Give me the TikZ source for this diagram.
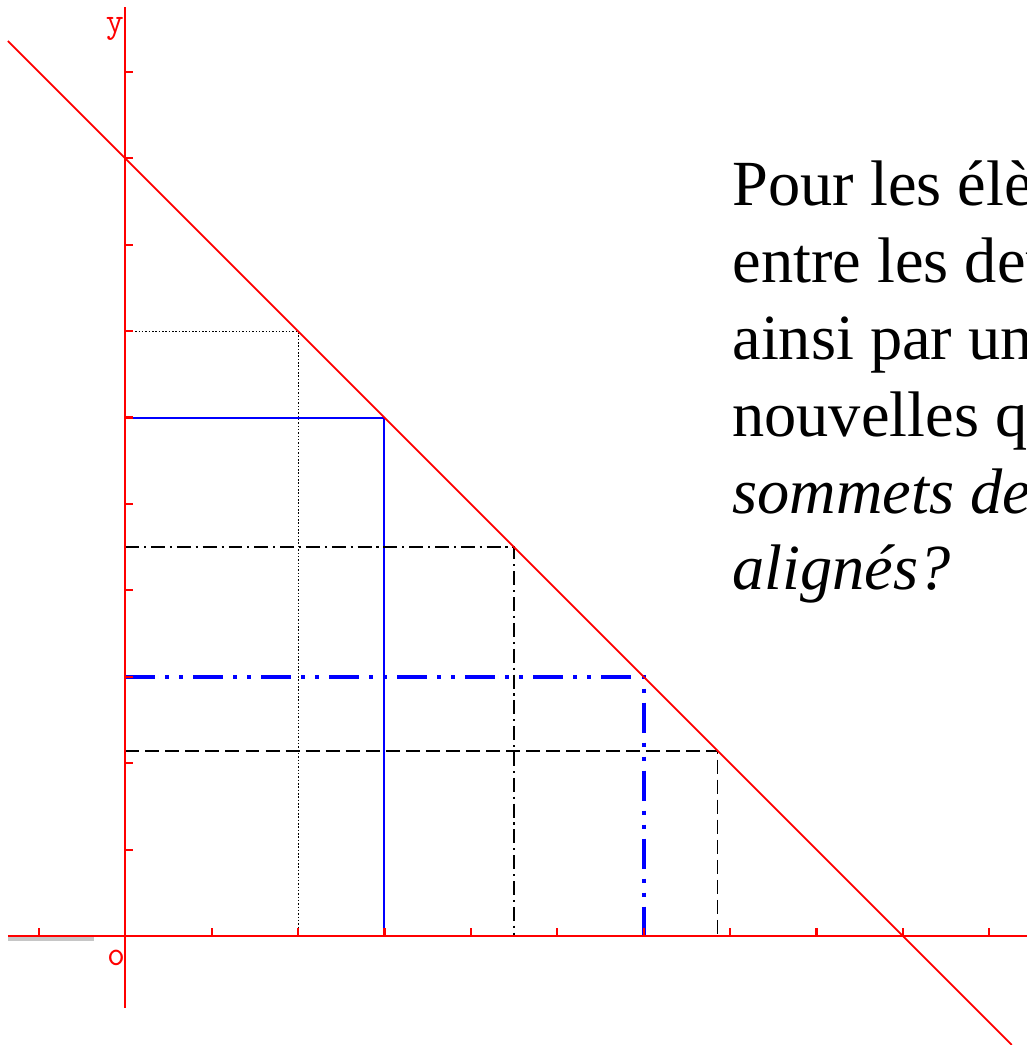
\documentclass[tikz,border=0pt]{standalone}
\usepackage{fontspec}
\setmainfont{Liberation Serif}
\usetikzlibrary{arrows.meta,positioning,calc}

\begin{document}
\begin{tikzpicture}[>=Stealth,
  axe/.style={red,line width=0.7pt},
  droite/.style={red,line width=0.55pt},
  pointille/.style={black,line width=0.35pt,dash pattern=on 0.5pt off 0.6pt},
  bleu/.style={blue,line width=0.65pt},
  tiret/.style={black,line width=0.5pt,dash pattern=on 4.6pt off 2pt},
  tiretpoint/.style={black,line width=0.5pt,dash pattern=on 4.6pt off 1.6pt on 0.7pt off 1.6pt},
  bleuepais/.style={blue,line width=1.3pt,dash pattern=on 9.9pt off 3.3pt on 1.3pt off 3.3pt on 1.3pt off 3.3pt},
  etiq/.style={red,inner sep=0pt,font=\ttfamily\fontsize{11.5}{12}\selectfont}]
  \useasboundingbox (-1.450,-1.262) rectangle (10.436,10.833);
  \clip (-1.450,-1.262) rectangle (10.436,10.833);
  \coordinate (O) at (0,0);
  % rectangles sous la droite
  \coordinate (A) at (2,7);
  \coordinate (B) at (3,6);
  \coordinate (C) at (4.5,4.5);
  \coordinate (D) at (6,3);
  \coordinate (E) at (6.857,2.143);
  \draw[pointille] (A -| O) -- (A) -- (A |- O);
  \draw[bleu] (B -| O) -- (B) -- (B |- O);
  \draw[tiretpoint] (C -| O) -- (C) -- (C |- O);
  \draw[tiret] (E -| O) -- (E) -- (E |- O);
  \draw[bleuepais] (D -| O) -- (D) -- (D |- O);
  % axes
  \draw[gray!45,line width=1.3pt] (-1.358,-0.035) -- (-0.362,-0.035);
  \draw[axe] (-1.358,0) -- (10.44,0);
  \draw[axe] (0,-0.833) -- (0,10.75);
  \foreach \x in {-1,1,2,...,10} \draw[axe] (\x,0) -- ++(0,0.09);
  \foreach \y in {1,...,10} \draw[axe] (0,\y) -- ++(0.09,0);
  \node[etiq] (ly) at (-0.12,10.50) {y};
  \node[etiq] (lo) at (-0.107,-0.251) {o};
  % droite x+y=9
  \draw[droite] (-1.358,10.358) -- (10.26,-1.26);
  \node[anchor=base west,align=left,inner sep=0pt,
    font=\fontsize{21.2}{25.3}\selectfont] (texte) at (7.02,4.005)
    {Pour les élèves\\entre les deux\\ainsi par une\\nouvelles qu\\
     \textit{sommets des}\\\textit{alignés?}};
\end{tikzpicture}
\end{document}
